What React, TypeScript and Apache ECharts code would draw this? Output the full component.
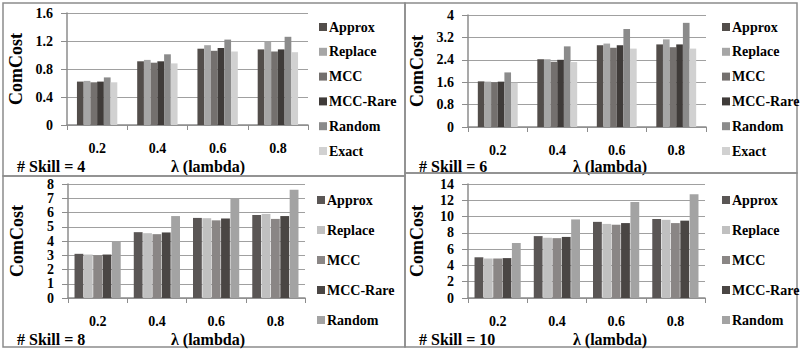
import React, { useEffect, useRef } from "react";
import * as echarts from "echarts";

const categories = ["0.2", "0.4", "0.6", "0.8"];
const namesTop = ["Approx", "Replace", "MCC", "MCC-Rare", "Random", "Exact"];
const namesBottom = ["Approx", "Replace", "MCC", "MCC-Rare", "Random"];

// Skill = 4
const s4Approx = [0.62, 0.91, 1.09, 1.08];
const s4Replace = [0.63, 0.93, 1.14, 1.19];
const s4MCC = [0.61, 0.89, 1.06, 1.05];
const s4MCCRare = [0.62, 0.91, 1.1, 1.08];
const s4Random = [0.68, 1.01, 1.22, 1.26];
const s4Exact = [0.61, 0.88, 1.05, 1.04];

// Skill = 6
const s6Approx = [1.63, 2.42, 2.92, 2.95];
const s6Replace = [1.62, 2.42, 2.98, 3.13];
const s6MCC = [1.6, 2.33, 2.83, 2.85];
const s6MCCRare = [1.62, 2.4, 2.92, 2.95];
const s6Random = [1.95, 2.88, 3.5, 3.72];
const s6Exact = [1.58, 2.32, 2.8, 2.8];

// Skill = 8
const s8Approx = [3.1, 4.62, 5.62, 5.82];
const s8Replace = [3.05, 4.55, 5.6, 5.9];
const s8MCC = [3.0, 4.48, 5.45, 5.55];
const s8MCCRare = [3.05, 4.6, 5.58, 5.75];
const s8Random = [4.0, 5.75, 7.0, 7.6];

// Skill = 10
const s10Approx = [5.0, 7.6, 9.35, 9.7];
const s10Replace = [4.85, 7.4, 9.1, 9.6];
const s10MCC = [4.85, 7.35, 9.0, 9.2];
const s10MCCRare = [4.9, 7.5, 9.2, 9.5];
const s10Random = [6.75, 9.65, 11.8, 12.75];

const colorsTop = ["#524d4a", "#a6a6a6", "#74706e", "#3f3b39", "#8b8b8b", "#d1d1d1"];
const colorsBottom = ["#5a5655", "#c0c0c0", "#8a8685", "#4a4644", "#a3a3a3"];

const FONT = "Liberation Serif";

const panels = [
  { skill: "# Skill = 4", names: namesTop, colors: colorsTop, data: [s4Approx, s4Replace, s4MCC, s4MCCRare, s4Random, s4Exact], min: 0, max: 1.6, interval: 0.4, grid: { left: 67, top: 13, width: 241, height: 112 }, legend: { left: 319, top: 20, gap: 10.8 }, box: [3, 3, 402, 173], ty: 166, gap: "33%", barGap: "0%" },
  { skill: "# Skill = 6", names: namesTop, colors: colorsTop, data: [s6Approx, s6Replace, s6MCC, s6MCCRare, s6Random, s6Exact], min: 0, max: 4, interval: 0.8, grid: { left: 468, top: 15, width: 238, height: 112 }, legend: { left: 722, top: 20, gap: 10.8 }, box: [405, 3, 392, 170], ty: 166, gap: "33%", barGap: "0%" },
  { skill: "# Skill = 8", names: namesBottom, colors: colorsBottom, data: [s8Approx, s8Replace, s8MCC, s8MCCRare, s8Random], min: 0, max: 8, interval: 1, grid: { left: 68, top: 184, width: 237, height: 114 }, legend: { left: 317, top: 193, gap: 16 }, box: [3, 176, 402, 171], ty: 339, gap: "22%", barGap: "6%" },
  { skill: "# Skill = 10", names: namesBottom, colors: colorsBottom, data: [s10Approx, s10Replace, s10MCC, s10MCCRare, s10Random], min: 0, max: 14, interval: 2, grid: { left: 468, top: 184, width: 237, height: 114 }, legend: { left: 722, top: 193, gap: 16 }, box: [405, 173, 392, 174], ty: 339, gap: "22%", barGap: "6%" },
];

export default function App() {
  const ref = useRef<HTMLDivElement>(null);
  useEffect(() => {
    if (!ref.current) return;
    const chart = echarts.init(ref.current, null, { renderer: "svg" });
    const grid: any[] = [];
    const xAxis: any[] = [];
    const yAxis: any[] = [];
    const legend: any[] = [];
    const series: any[] = [];
    const graphic: any[] = [];
    panels.forEach((p, i) => {
      grid.push({ ...p.grid });
      xAxis.push({
        type: "category",
        gridIndex: i,
        data: categories,
        axisLine: { lineStyle: { color: "#8c8c8c", width: 1.5 } },
        axisTick: { show: true, length: 5, lineStyle: { color: "#8c8c8c" } },
        axisLabel: { margin: 16, color: "#000", fontFamily: FONT, fontWeight: "bold", fontSize: 14 },
      });
      yAxis.push({
        type: "value",
        gridIndex: i,
        min: p.min,
        max: p.max,
        interval: p.interval,
        name: "ComCost",
        nameLocation: "middle",
        nameGap: 42,
        nameTextStyle: { color: "#000", fontFamily: FONT, fontWeight: "bold", fontSize: 18 },
        axisLine: { show: true, lineStyle: { color: "#8c8c8c", width: 1.5 } },
        axisTick: { show: true, length: 6, lineStyle: { color: "#8c8c8c" } },
        axisLabel: { margin: 14, color: "#000", fontFamily: FONT, fontWeight: "bold", fontSize: 14 },
        splitLine: { show: true, lineStyle: { color: "#a0a0a0", width: 1.2 } },
      });
      legend.push({
        orient: "vertical",
        left: p.legend.left,
        top: p.legend.top,
        itemGap: p.legend.gap,
        itemWidth: 8,
        itemHeight: 8,
        icon: "rect",
        padding: 0,
        textStyle: { color: "#000", fontFamily: FONT, fontWeight: "bold", fontSize: 14, lineHeight: 14, padding: [0, 0, 0, -3] },
        data: p.names.map((n, k) => ({ name: n, itemStyle: { color: p.colors[k] } })),
      });
      p.names.forEach((n, k) => {
        series.push({
          type: "bar",
          name: n,
          xAxisIndex: i,
          yAxisIndex: i,
          data: p.data[k],
          barCategoryGap: p.gap,
          barGap: p.barGap,
          itemStyle: { color: p.colors[k] },
        });
      });
      const [bx, by, bw, bh] = p.box;
      graphic.push({
        type: "rect",
        shape: { x: bx, y: by, width: bw, height: bh },
        style: { fill: "none", stroke: "#8c8c8c", lineWidth: 1.5 },
        silent: true,
      });
      graphic.push({
        type: "text",
        x: bx + 14,
        y: p.ty,
        style: { text: p.skill, fill: "#000", fontFamily: FONT, fontWeight: "bold", fontSize: 16, verticalAlign: "middle", align: "left" },
      });
      graphic.push({
        type: "text",
        x: bx + 205,
        y: p.ty,
        style: { text: "λ (lambda)", fill: "#000", fontFamily: FONT, fontWeight: "bold", fontSize: 16, verticalAlign: "middle", align: "center" },
      });
    });
    chart.setOption({
      animation: false,
      backgroundColor: "#fff",
      grid,
      xAxis,
      yAxis,
      legend,
      series,
      graphic,
    });
    return () => chart.dispose();
  }, []);
  return <div ref={ref} style={{ position: "absolute", left: 0, top: 0, width: 800, height: 350 }} />;
}
